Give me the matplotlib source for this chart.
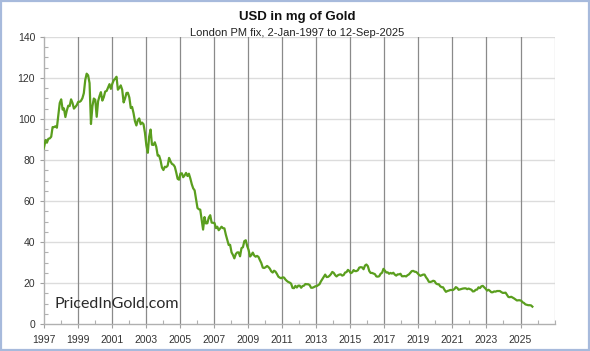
import matplotlib
matplotlib.use("Agg")
import matplotlib.pyplot as plt
from matplotlib.patches import Rectangle
from matplotlib.ticker import MultipleLocator
import numpy as np
import pandas as pd

# ---- data: USD in mg of gold, monthly (mid-month) values ----
y1997 = [86.5, 89.7, 88.4, 90.3, 90.5, 91.3, 96.0, 96.0, 96.4, 95.7, 101.6, 107.7]
y1998 = [109.5, 104.5, 105.1, 100.9, 104.0, 106.4, 106.2, 109.5, 107.7, 105.0, 105.8, 106.7]
y1999 = [108.3, 108.3, 108.8, 110.1, 112.5, 119.0, 122.0, 121.2, 117.4, 97.5, 106.1, 109.9]
y2000 = [109.3, 101.0, 108.5, 111.1, 113.0, 108.9, 110.5, 113.3, 113.6, 115.2, 116.9, 114.6]
y2001 = [117.1, 118.8, 119.5, 120.5, 114.2, 115.1, 116.3, 114.2, 108.0, 109.9, 112.6, 112.7]
y2002 = [110.4, 105.3, 105.8, 102.8, 98.9, 96.8, 99.3, 100.2, 97.4, 98.2, 97.4, 93.3]
y2003 = [87.1, 83.5, 91.3, 94.8, 87.4, 87.3, 88.6, 86.4, 82.1, 82.1, 79.8, 76.3]
y2004 = [75.1, 76.7, 76.5, 77.2, 81.0, 79.3, 78.1, 77.7, 76.7, 74.0, 70.8, 70.4]
y2005 = [73.4, 73.5, 71.6, 72.5, 73.7, 72.2, 73.3, 71.0, 68.2, 66.2, 65.2, 61.0]
y2006 = [56.6, 56.0, 55.8, 50.9, 46.1, 52.2, 49.1, 49.2, 52.0, 53.1, 49.5, 49.4]
y2007 = [49.3, 46.8, 47.5, 45.8, 46.6, 47.5, 46.8, 46.7, 43.6, 41.2, 38.6, 38.7]
y2008 = [35.0, 33.7, 32.1, 34.2, 35.0, 35.0, 33.1, 37.1, 37.5, 40.5, 40.9, 38.1]
y2009 = [36.2, 33.0, 33.7, 34.9, 33.5, 32.9, 33.3, 32.8, 31.2, 29.8, 27.6, 27.4]
y2010 = [27.8, 28.4, 27.9, 27.1, 25.8, 25.2, 26.1, 25.6, 24.5, 23.2, 22.7, 22.4]
y2011 = [22.9, 22.7, 21.8, 21.1, 20.6, 20.3, 19.8, 17.7, 17.6, 18.7, 17.9, 18.8]
y2012 = [18.8, 17.8, 18.6, 18.8, 19.6, 19.5, 19.5, 19.1, 17.8, 17.8, 18.1, 18.5]
y2013 = [18.6, 19.1, 19.5, 20.9, 22.0, 23.2, 24.2, 23.0, 23.1, 23.6, 24.4, 25.5]
y2014 = [25.0, 23.9, 23.3, 23.9, 24.2, 24.3, 23.7, 24.0, 25.2, 25.4, 26.5, 25.9]
y2015 = [24.9, 25.3, 26.4, 25.9, 25.9, 26.3, 27.6, 27.8, 27.7, 26.8, 28.6, 29.1]
y2016 = [28.3, 25.9, 25.0, 25.0, 24.7, 24.4, 23.3, 23.2, 23.4, 24.6, 25.1, 27.0]
y2017 = [26.1, 25.2, 25.3, 24.6, 25.0, 24.7, 25.1, 24.2, 23.7, 24.3, 24.3, 24.6]
y2018 = [23.4, 23.4, 23.5, 23.3, 23.9, 24.3, 25.1, 25.9, 26.0, 25.6, 25.5, 24.9]
y2019 = [24.1, 23.6, 23.9, 24.2, 24.2, 22.9, 22.0, 20.7, 20.6, 20.8, 21.2, 21.0]
y2020 = [19.9, 19.5, 19.5, 18.5, 18.1, 18.0, 16.8, 15.8, 16.2, 16.4, 16.7, 16.7]
y2021 = [16.7, 17.2, 18.1, 17.7, 16.8, 17.0, 17.2, 17.4, 17.5, 17.5, 17.1, 17.4]
y2022 = [17.1, 16.8, 16.0, 16.1, 16.8, 16.9, 18.0, 17.6, 18.5, 18.7, 18.0, 17.3]
y2023 = [16.4, 16.8, 16.3, 15.6, 15.6, 16.0, 15.9, 16.2, 16.2, 16.2, 15.7, 15.3]
y2024 = [15.3, 15.4, 14.4, 13.3, 13.2, 13.4, 13.0, 12.6, 12.1, 11.6, 11.7, 11.7]
y2025 = [11.5, 10.7, 10.4, 9.7, 9.5, 9.3, 9.3, 9.2, 8.6]

start_date = "1997-01-02"
start_value = 85.5
end_date = "2025-09-12"

x_tick_years = list(range(1997, 2027, 2))
y_ticks = [0, 20, 40, 60, 80, 100, 120, 140]

title = "USD in mg of Gold"
subtitle = "London PM fix, 2-Jan-1997 to 12-Sep-2025"
watermark = "PricedInGold.com"

# ---- assemble series ----
yearly = [y1997, y1998, y1999, y2000, y2001, y2002, y2003, y2004, y2005, y2006,
          y2007, y2008, y2009, y2010, y2011, y2012, y2013, y2014, y2015, y2016,
          y2017, y2018, y2019, y2020, y2021, y2022, y2023, y2024, y2025]
values = [v for yr in yearly for v in yr]
months = pd.date_range("1997-01-01", periods=len(values), freq="MS") + pd.Timedelta(days=14)
dates = list(months)
dates[-1] = pd.Timestamp(end_date)
dates = [pd.Timestamp(start_date)] + dates
values = [start_value] + values
dates = pd.DatetimeIndex(dates)
xdec = dates.year + (dates.dayofyear - 1) / 365.25

# ---- figure ----
W, H = 590, 351
fig = plt.figure(figsize=(W / 100, H / 100), dpi=100)
fig.patch.set_facecolor("white")
ax = fig.add_axes([43.5 / W, 1 - 324.3 / H, (554.6 - 43.5) / W, (324.3 - 36.7) / H])

ax.set_xlim(1997, 2027)
ax.set_ylim(0, 140)

# grid
for yv in y_ticks[1:]:
    ax.axhline(yv, color="#dcdcdc", lw=1.0, zorder=1)
for xv in x_tick_years[1:]:
    ax.axvline(xv, color="#8a8a8a", lw=0.9, zorder=1)
ax.axvline(2027, color="#d8d8d8", lw=1.0, zorder=1)

ax.plot(xdec, values, color="#5a9e1e", lw=1.6, zorder=3, solid_joinstyle="round")

for s in ["top", "right"]:
    ax.spines[s].set_visible(False)
for s in ["left", "bottom"]:
    ax.spines[s].set_color("#b0b0b0")
    ax.spines[s].set_linewidth(1.0)

ax.set_xticks(x_tick_years)
ax.set_xticklabels([str(y) for y in x_tick_years])
ax.xaxis.set_minor_locator(MultipleLocator(1))
ax.set_yticks(y_ticks)
ax.yaxis.set_minor_locator(MultipleLocator(5))
ax.tick_params(axis="both", which="major", direction="out", length=3, width=0.8,
               color="#a0a0a0", labelsize=7.5, labelcolor="#333333")
ax.tick_params(axis="x", which="major", pad=5)
ax.tick_params(axis="y", which="major", pad=3)
ax.tick_params(axis="both", which="minor", direction="in", length=3, width=0.8,
               color="#b0b0b0")

for lab in ax.get_xticklabels() + ax.get_yticklabels():
    lab.set_family("Liberation Sans")

fig.text(297 / W, 1 - 17 / H, title, ha="center", va="center",
         fontsize=9.5, fontweight="bold", family="Liberation Sans", color="#111111")
fig.text(297 / W, 1 - 33 / H, subtitle, ha="center", va="center",
         fontsize=8, family="Liberation Sans", color="#222222")

fig.text(54 / W, 1 - 304 / H, watermark, ha="left", va="center",
         fontsize=11.5, family="Lato", fontweight="normal", color="#2a2a2a", zorder=4)

fig.add_artist(Rectangle((0.001, 0.002), 0.997, 0.996, transform=fig.transFigure,
                         fill=False, edgecolor="#a7badc", lw=1.6))

fig.savefig("out.png", dpi=100, facecolor="white")
